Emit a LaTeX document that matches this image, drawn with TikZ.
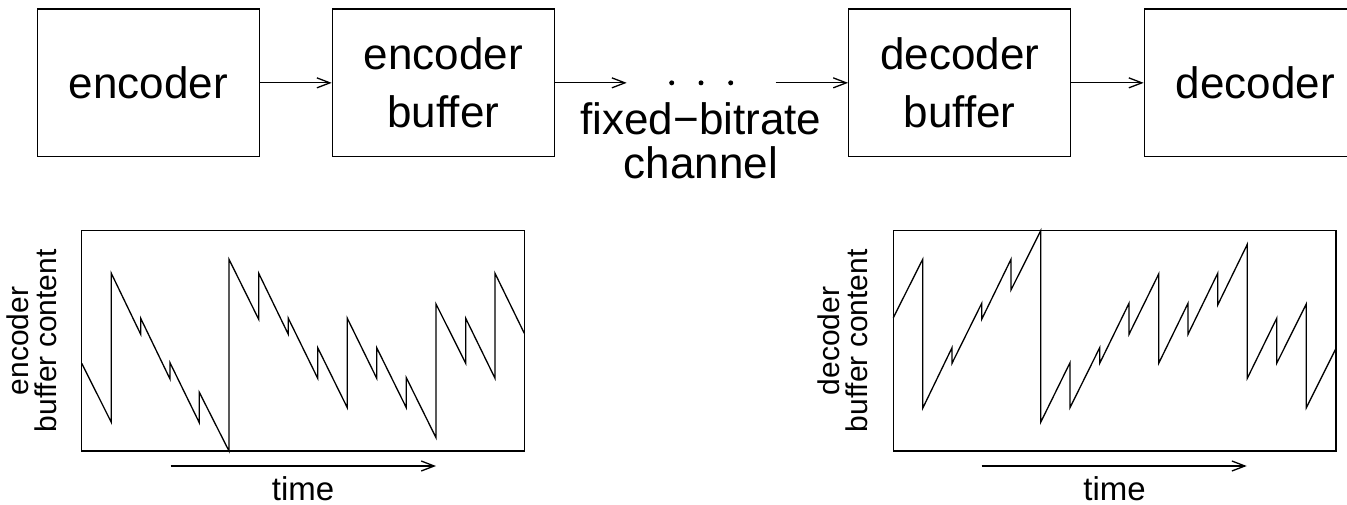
\documentclass[tikz,border=0pt]{standalone}
\usepackage{fontspec}
\setmainfont{Liberation Sans}
\usetikzlibrary{arrows.meta}
\begin{document}
\begin{tikzpicture}[x=1pt,y=-1pt,
  blk/.style={draw, line width=1.3pt, minimum width=222pt, minimum height=147.7pt, inner sep=0pt, align=center, font=\fontsize{44}{58}\selectfont},
  conn/.style={line width=1.3pt, -{Straight Barb[length=13pt,width=10pt]}},
  frame/.style={draw, line width=1.3pt, minimum width=442.6pt, minimum height=220.3pt, inner sep=0pt},
  curve/.style={line width=1.3pt, line join=miter},
  ylab/.style={rotate=90, align=center, font=\fontsize{30}{28}\selectfont, inner sep=0pt},
  tlab/.style={font=\fontsize{33}{33}\selectfont, inner sep=0pt, anchor=base},
  dot/.style={circle, fill, inner sep=0pt, minimum size=5pt}]
\clip (0,0) rectangle (1347,505);
% block diagram
\node[blk] (enc) at (148.3,82.85) {encoder};
\node[blk] (encbuf) at (443.35,82.85) {encoder\\buffer};
\node[blk] (decbuf) at (959.7,82.85) {decoder\\buffer};
\node[blk] (dec) at (1255.3,82.85) {decoder};
\coordinate (chin) at (626.7,82.85);
\coordinate (chout) at (775.7,82.85);
\draw[conn] (enc.east) -- (encbuf.west);
\draw[conn] (encbuf.east) -- (chin);
\draw[conn] (chout) -- (decbuf.west);
\draw[conn] (decbuf.east) -- (dec.west);
\node[dot] (d1) at (671.7,82.85) {};
\node[dot] (d2) at (701,82.85) {};
\node[dot] (d3) at (730.7,82.85) {};
\node[align=center, font=\fontsize{44}{43.3}\selectfont, inner sep=0pt] (chan) at (700.85,140.8) {fixed−bitrate\\channel};
% plots
\node[frame] (p1) at (303,340.85) {};
\node[frame] (p2) at (1114.65,340.85) {};
\draw[curve] (81.7,363.3) -- (111.3,422.3) -- (111.3,273.3) -- (140.7,334.3) -- (140.7,318.3)
  -- (170,379) -- (170,362.7) -- (199.3,422.7) -- (199.3,392.3) -- (229,451) -- (229,259.3)
  -- (258.7,319.3) -- (258.7,273.3) -- (288.3,334.3) -- (288.3,318.3) -- (317.7,378.3)
  -- (317.7,347.7) -- (347.3,407.7) -- (347.3,318.3) -- (376.7,378.3) -- (376.7,347.7)
  -- (406.3,407.7) -- (406.3,377.7) -- (436,437.7) -- (436,304) -- (465.7,363.3)
  -- (465.7,318.3) -- (495,378.3) -- (495,273.3) -- (524.3,333.3);
\draw[curve] (893.3,317.7) -- (922.7,259.3) -- (922.7,408.3) -- (952,347.7) -- (952,363.3)
  -- (981.7,303.3) -- (981.7,319.3) -- (1011,259.3) -- (1011,290) -- (1040.7,230.7)
  -- (1040.7,422.3) -- (1070,362.7) -- (1070,407.7) -- (1099.7,347.7) -- (1099.7,363.3)
  -- (1129,303.3) -- (1129,334.3) -- (1158.7,274) -- (1158.7,363.3) -- (1188,303.3)
  -- (1188,334.3) -- (1217.7,273.3) -- (1217.7,305) -- (1247.3,244.3) -- (1247.3,378.3)
  -- (1276.7,318.3) -- (1276.7,363.3) -- (1306.3,304) -- (1306.3,407.7) -- (1336,348.3);
\node[ylab] (l1) at (31.5,340.85) {encoder\\buffer content};
\node[ylab] (l2) at (843.1,340.85) {decoder\\buffer content};
\coordinate (t1a) at (170.7,466);
\coordinate (t1b) at (436,466);
\coordinate (t2a) at (981.7,466);
\coordinate (t2b) at (1246.7,466);
\draw[conn] (t1a) -- (t1b);
\draw[conn] (t2a) -- (t2b);
\node[tlab] (tm1) at (303,500) {time};
\node[tlab] (tm2) at (1114.65,500) {time};
\end{tikzpicture}
\end{document}
